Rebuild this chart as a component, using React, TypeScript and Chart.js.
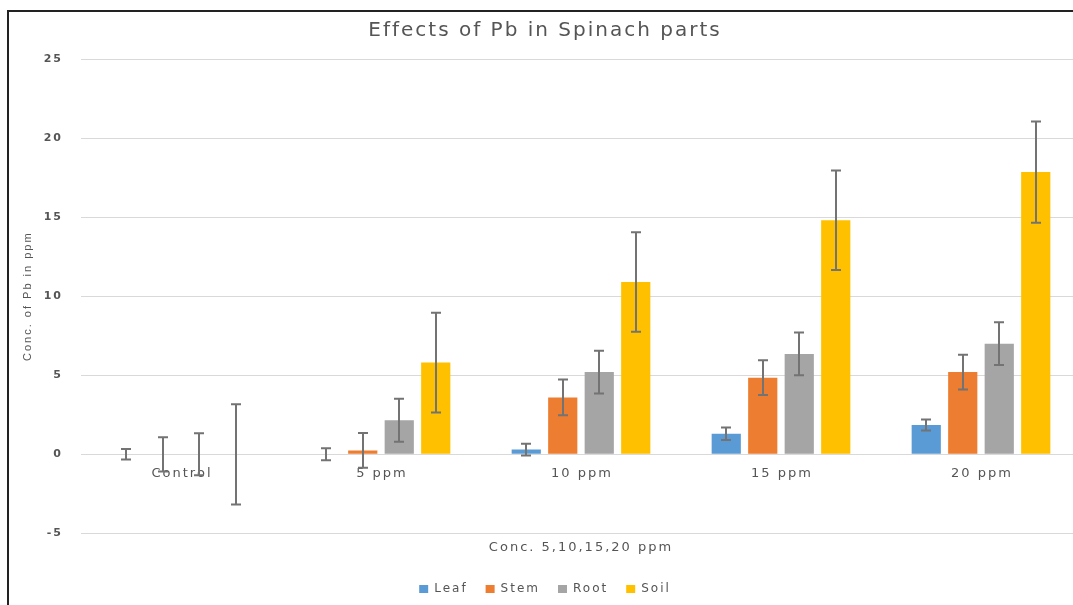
import React, { useEffect, useRef } from 'react';
import { Chart, registerables } from 'chart.js';

Chart.register(...registerables);

const categories = ['Control', '5 ppm', '10 ppm', '15 ppm', '20 ppm'];
const seriesNames = ['Leaf', 'Stem', 'Root', 'Soil'];
const leafValues = [0, 0, 0.3, 1.3, 1.85];
const stemValues = [0, 0.25, 3.6, 4.85, 5.2];
const rootValues = [0, 2.15, 5.2, 6.35, 7.0];
const soilValues = [0, 5.8, 10.9, 14.8, 17.85];
const leafErrors = [0.33, 0.38, 0.37, 0.4, 0.35];
const stemErrors = [1.08, 1.1, 1.13, 1.1, 1.1];
const rootErrors = [1.33, 1.36, 1.35, 1.35, 1.35];
const soilErrors = [3.17, 3.15, 3.15, 3.15, 3.2];
const yTicks = [-5, 0, 5, 10, 15, 20, 25];

const seriesValues = [leafValues, stemValues, rootValues, soilValues];
const seriesErrors = [leafErrors, stemErrors, rootErrors, soilErrors];
const seriesColors = ['#5B9BD5', '#ED7D31', '#A5A5A5', '#FFC000'];

const TEXT = '#555555';
const FONT = '"DejaVu Sans", Verdana, sans-serif';
const LS = '2px';

const spacingPlugin = {
  id: 'spacing',
  beforeLayout(chart: any) {
    chart.ctx.letterSpacing = LS;
  },
  beforeDraw(chart: any) {
    chart.ctx.letterSpacing = LS;
  },
};

const categoryLabelPlugin = {
  id: 'categoryLabels',
  afterDatasetsDraw(chart: any) {
    const { ctx } = chart;
    const x = chart.scales.x;
    const y = chart.scales.y;
    const y0 = y.getPixelForValue(0);
    ctx.save();
    ctx.letterSpacing = LS;
    ctx.font = `13px ${FONT}`;
    ctx.fillStyle = TEXT;
    ctx.textAlign = 'center';
    ctx.textBaseline = 'middle';
    (chart.data.labels as string[]).forEach((label, i) => {
      ctx.fillText(label, x.getPixelForValue(i) + 1, y0 + 19);
    });
    ctx.restore();
  },
};

const errorBarPlugin = {
  id: 'errorBars',
  afterDatasetsDraw(chart: any) {
    const { ctx } = chart;
    const y = chart.scales.y;
    ctx.save();
    ctx.strokeStyle = '#737373';
    ctx.lineWidth = 2;
    chart.data.datasets.forEach((ds: any, di: number) => {
      const meta = chart.getDatasetMeta(di);
      const errs = seriesErrors[di];
      meta.data.forEach((bar: any, i: number) => {
        const v = ds.data[i] as number;
        const e = errs[i];
        const top = y.getPixelForValue(v + e);
        const bot = y.getPixelForValue(v - e);
        const cx = Math.round(bar.x);
        ctx.beginPath();
        ctx.moveTo(cx, top);
        ctx.lineTo(cx, bot);
        ctx.moveTo(cx - 5, top);
        ctx.lineTo(cx + 5, top);
        ctx.moveTo(cx - 5, bot);
        ctx.lineTo(cx + 5, bot);
        ctx.stroke();
      });
    });
    ctx.restore();
  },
};

export default function App() {
  const canvasRef = useRef<HTMLCanvasElement | null>(null);

  useEffect(() => {
    const canvas = canvasRef.current;
    if (!canvas) return;
    const chart = new Chart(canvas, {
      type: 'bar',
      data: {
        labels: categories,
        datasets: seriesNames.map((name, i) => ({
          label: name,
          data: seriesValues[i],
          backgroundColor: seriesColors[i],
          borderWidth: 0,
          categoryPercentage: 0.73,
          barPercentage: 0.8,
        })),
      },
      options: {
        responsive: false,
        animation: false,
        devicePixelRatio: 1,
        layout: { padding: { left: 0, right: 3, top: 0, bottom: 0 } },
        plugins: {
          title: {
            display: true,
            text: 'Effects of Pb in Spinach parts',
            color: TEXT,
            font: { family: FONT, size: 20, weight: 'normal' },
            padding: { top: 7, bottom: 16 },
          },
          legend: {
            display: true,
            position: 'bottom',
            labels: {
              boxWidth: 9,
              boxHeight: 8,
              color: TEXT,
              font: { family: FONT, size: 12 },
              padding: 18,
            },
          },
          tooltip: { enabled: false },
        },
        scales: {
          x: {
            grid: { display: false, drawTicks: false },
            border: { display: false },
            ticks: { display: false },
            title: {
              display: true,
              text: 'Conc. 5,10,15,20 ppm',
              color: TEXT,
              font: { family: FONT, size: 13 },
              padding: { top: 6, bottom: 10 },
            },
          },
          y: {
            min: -5,
            max: 25,
            afterBuildTicks: (scale: any) => {
              scale.ticks = yTicks.map((v) => ({ value: v }));
            },
            afterFit: (scale: any) => {
              scale.width = 72;
            },
            grid: { color: '#d9d9d9', lineWidth: 1, drawTicks: false },
            border: { display: false },
            ticks: {
              color: TEXT,
              font: { family: FONT, size: 11, weight: 'bold' },
              padding: 18,
            },
            title: {
              display: true,
              text: 'Conc. of Pb in ppm',
              color: TEXT,
              font: { family: '"Liberation Sans", Arial, sans-serif', size: 11 },
              padding: { top: 12, bottom: 0 },
            },
          },
        },
      },
      plugins: [spacingPlugin, categoryLabelPlugin, errorBarPlugin],
    } as any);
    return () => chart.destroy();
  }, []);

  return (
    <div style={{ position: 'fixed', left: 0, top: 0, right: 0, bottom: 0, overflow: 'hidden', background: '#fff' }}>
      <div
        style={{
          position: 'absolute',
          left: 7,
          top: 10,
          width: 1075,
          height: 593,
          borderLeft: '2px solid #222',
          borderTop: '2px solid #222',
        }}
      >
        <canvas ref={canvasRef} width={1075} height={593} style={{ display: 'block', width: 1075, height: 593 }} />
      </div>
    </div>
  );
}
